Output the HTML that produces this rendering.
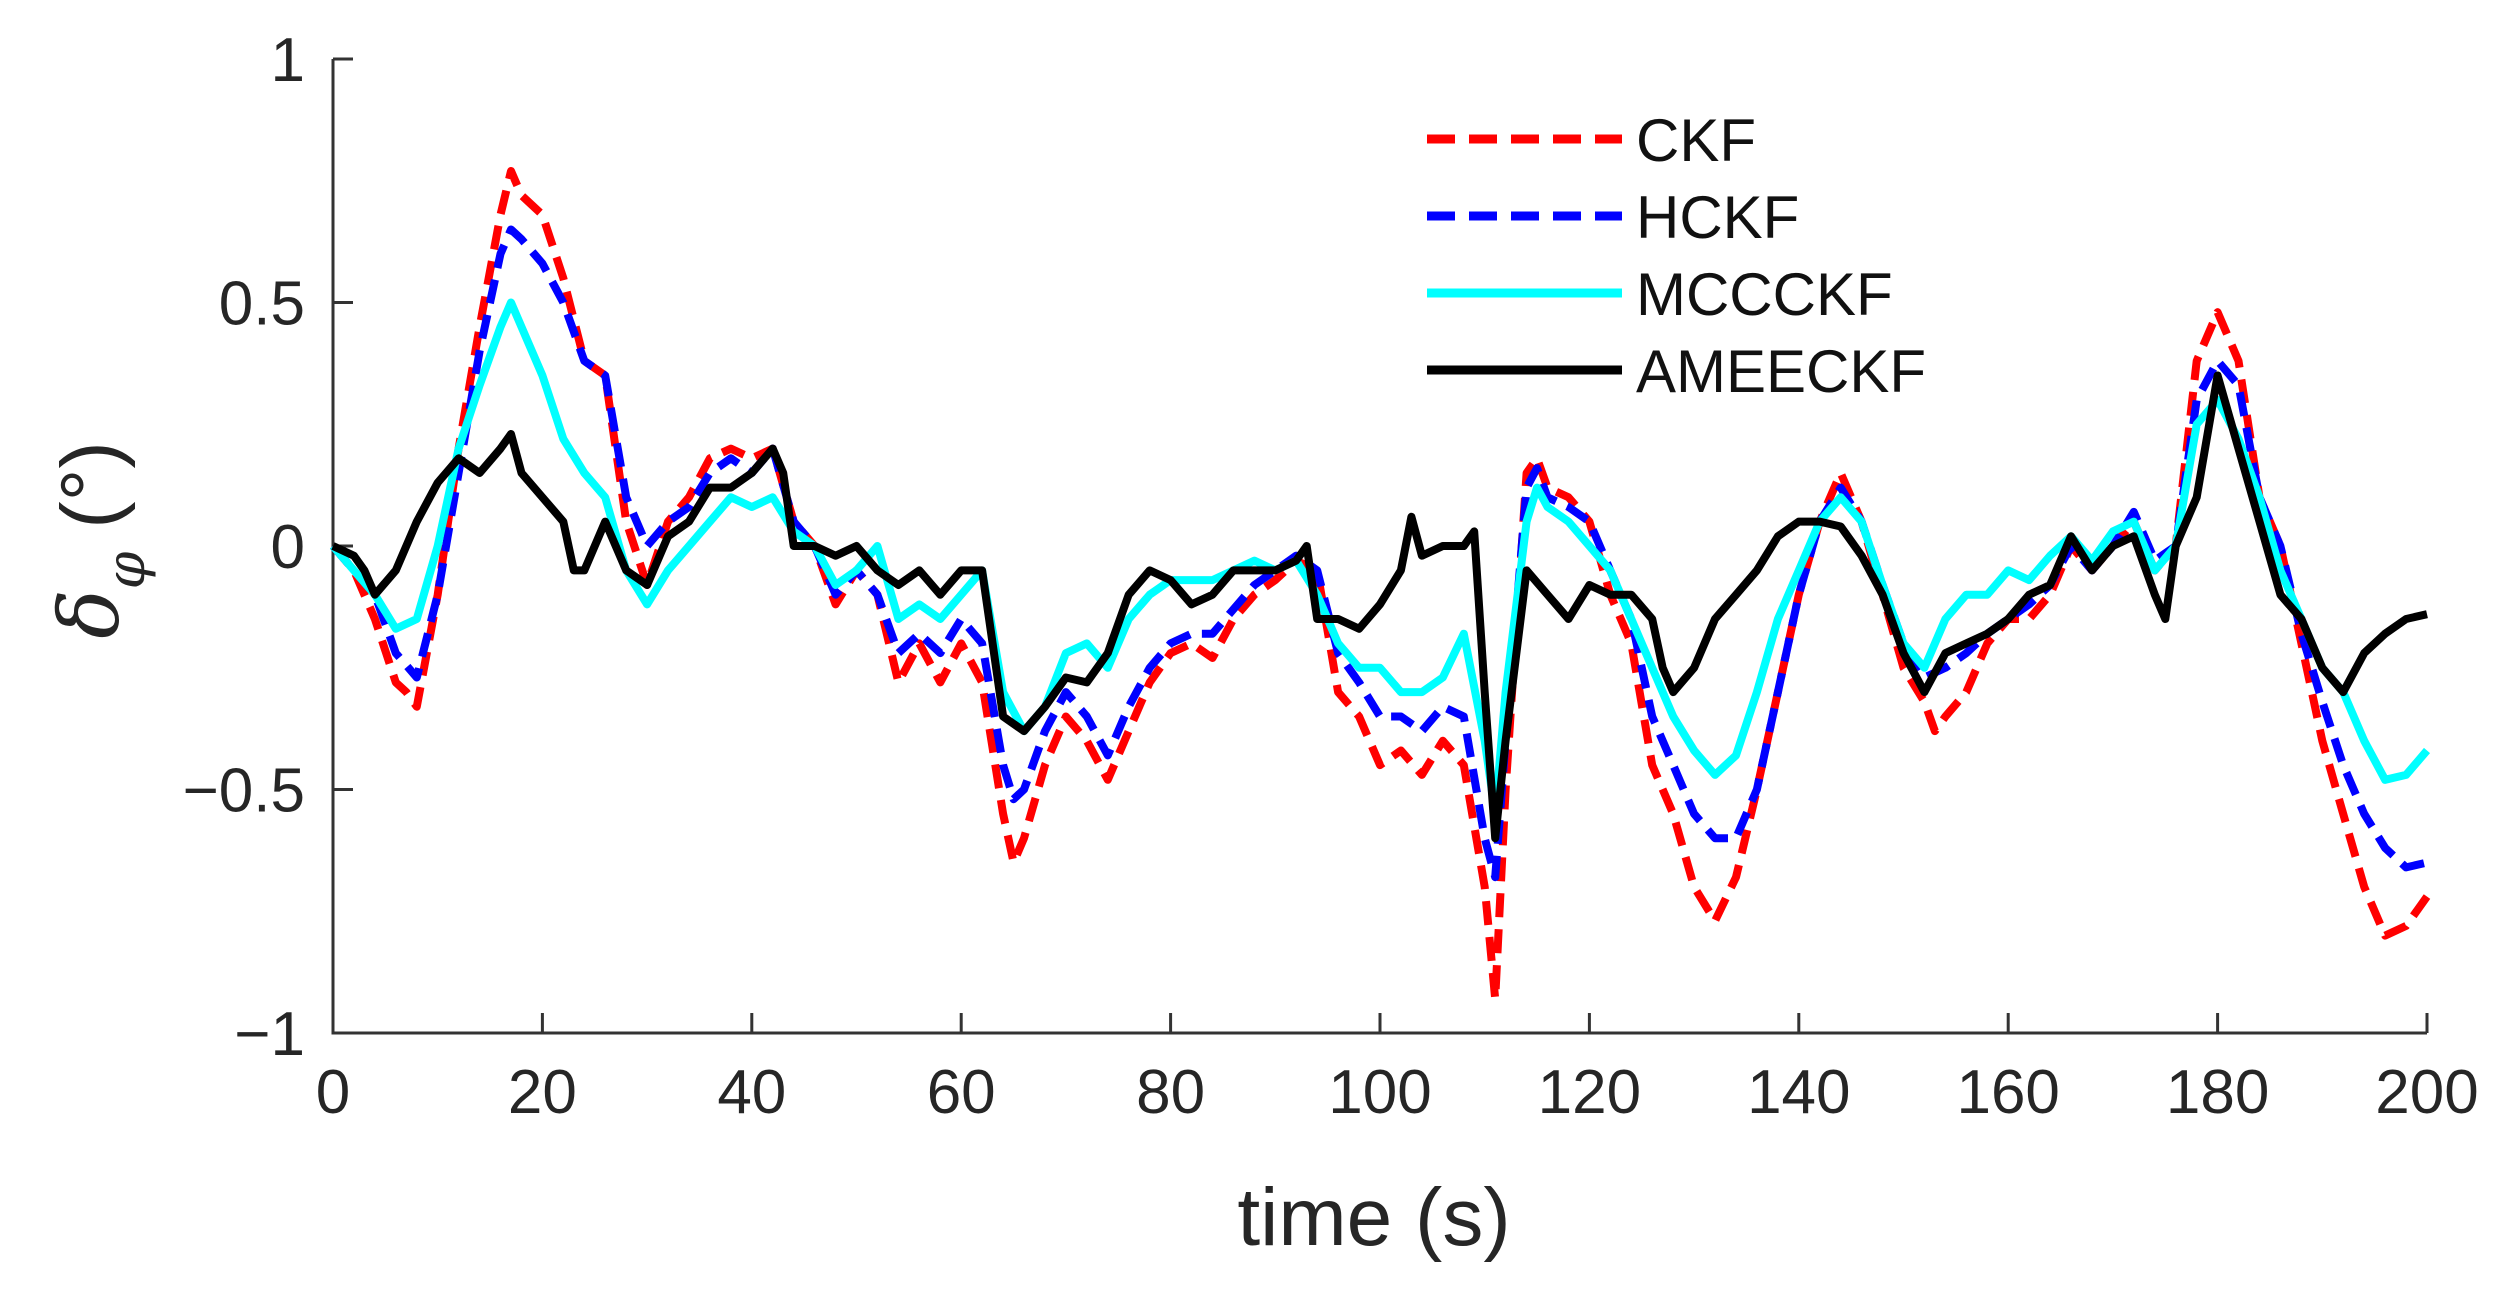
<!DOCTYPE html>
<html><head><meta charset="utf-8"><style>
html,body{margin:0;padding:0;background:#fff;}
svg{display:block;font-family:"Liberation Sans",Arial,sans-serif;}
</style></head><body>
<svg id="chart" width="2505" height="1293" viewBox="0 0 2505 1293" xmlns="http://www.w3.org/2000/svg">
<rect width="2505" height="1293" fill="#fff"/>
<g id="axes"></g>
<g id="series"></g>
<text x="1374" y="1245" font-size="82" text-anchor="middle" fill="#262626">time (s)</text>
<text transform="translate(118,540) rotate(-90)" font-size="82" text-anchor="middle" fill="#262626"><tspan font-family="'DejaVu Serif',serif" font-style="italic">δ</tspan><tspan font-family="'DejaVu Serif',serif" font-style="italic" font-size="54" dy="26">φ</tspan><tspan dy="-26"> (°)</tspan></text>
<g id="legend"></g>
</svg>
<script>
const xTicks=[0,20,40,60,80,100,120,140,160,180,200];
const yTicks=[-1,-0.5,0,0.5,1];
const yTickLabels=["\u22121","\u22120.5","0","0.5","1"];
const seriesNames=["CKF","HCKF","MCCCKF","AMEECKF"];
const ckfT=[0,2,4,6,7,8,10,12,14,16,17,18,20,22,24,26,28,30,32,34,36,38,40,42,44,46,48,50,52,54,56,58,60,62,64,65,66,68,70,72,74,76,78,80,82,84,86,88,90,92,94,96,98,100,102,104,106,108,110,111,112,114,115,116,118,120,122,124,126,128,130,132,134,136,138,140,142,144,146,148,150,152,153,154,156,158,160,162,164,166,168,170,172,174,176,178,180,182,184,186,188,190,192,194,196,198,200];
const ckfV=[0,-0.05,-0.15,-0.28,-0.3,-0.33,-0.1,0.2,0.45,0.68,0.77,0.72,0.68,0.55,0.38,0.35,0.05,-0.08,0.05,0.1,0.18,0.2,0.18,0.2,0.05,0,-0.12,-0.05,-0.1,-0.28,-0.2,-0.28,-0.2,-0.28,-0.55,-0.65,-0.6,-0.45,-0.35,-0.4,-0.48,-0.38,-0.28,-0.22,-0.2,-0.23,-0.15,-0.1,-0.07,-0.03,-0.05,-0.3,-0.35,-0.45,-0.42,-0.47,-0.4,-0.45,-0.7,-0.93,-0.5,0.15,0.18,0.12,0.1,0.05,-0.1,-0.2,-0.45,-0.55,-0.7,-0.77,-0.68,-0.5,-0.3,-0.1,0.05,0.15,0.05,-0.1,-0.25,-0.32,-0.38,-0.35,-0.3,-0.2,-0.15,-0.15,-0.1,0,-0.05,0,0.05,-0.05,0,0.38,0.48,0.38,0.1,0,-0.2,-0.4,-0.55,-0.7,-0.8,-0.78,-0.72];
const hckfT=[0,4,6,8,10,12,14,16,17,18,20,22,24,26,28,30,32,34,36,38,40,42,44,46,48,50,52,54,56,58,60,62,64,65,66,68,70,72,74,76,78,80,82,84,86,88,90,92,94,96,98,100,102,104,106,108,110,111,112,114,115,116,118,120,122,124,126,128,130,132,134,136,138,140,142,144,146,148,150,152,154,156,158,160,162,164,166,168,170,172,174,176,178,180,182,184,186,188,190,192,194,196,198,200];
const hckfV=[0,-0.1,-0.22,-0.27,-0.1,0.15,0.4,0.6,0.65,0.63,0.58,0.5,0.38,0.35,0.1,0,0.05,0.08,0.15,0.18,0.15,0.2,0.05,0,-0.1,-0.05,-0.1,-0.22,-0.18,-0.22,-0.15,-0.2,-0.45,-0.52,-0.5,-0.38,-0.3,-0.35,-0.43,-0.33,-0.25,-0.2,-0.18,-0.18,-0.13,-0.08,-0.05,-0.02,-0.05,-0.22,-0.28,-0.35,-0.35,-0.38,-0.33,-0.35,-0.6,-0.68,-0.4,0.12,0.16,0.1,0.08,0.05,-0.05,-0.15,-0.35,-0.45,-0.55,-0.6,-0.6,-0.5,-0.3,-0.1,0.05,0.12,0.05,-0.08,-0.2,-0.27,-0.25,-0.22,-0.18,-0.15,-0.12,-0.08,0,-0.05,0,0.07,-0.03,0,0.3,0.38,0.33,0.1,0,-0.18,-0.32,-0.45,-0.55,-0.62,-0.66,-0.65];
const mccT=[0,2,4,6,8,10,12,14,16,17,18,20,22,24,26,28,30,32,34,36,38,40,42,44,46,48,50,52,54,56,58,60,62,64,66,68,70,72,74,76,78,80,82,84,86,88,90,92,94,96,98,100,102,104,106,108,110,111,112,114,115,116,118,120,122,124,126,128,130,132,134,136,138,140,142,144,146,148,150,152,154,156,158,160,162,164,166,168,170,172,174,176,178,180,182,184,186,188,190,192,194,196,198,200];
const mccV=[0,-0.05,-0.1,-0.17,-0.15,0,0.2,0.33,0.45,0.5,0.45,0.35,0.22,0.15,0.1,-0.05,-0.12,-0.05,0,0.05,0.1,0.08,0.1,0.03,0,-0.08,-0.05,0,-0.15,-0.12,-0.15,-0.1,-0.05,-0.3,-0.38,-0.33,-0.22,-0.2,-0.25,-0.15,-0.1,-0.07,-0.07,-0.07,-0.05,-0.03,-0.05,-0.03,-0.1,-0.2,-0.25,-0.25,-0.3,-0.3,-0.27,-0.18,-0.4,-0.55,-0.3,0.05,0.12,0.08,0.05,0,-0.05,-0.15,-0.25,-0.35,-0.42,-0.47,-0.43,-0.3,-0.15,-0.05,0.05,0.1,0.05,-0.08,-0.2,-0.25,-0.15,-0.1,-0.1,-0.05,-0.07,-0.02,0.02,-0.03,0.03,0.05,-0.05,0,0.25,0.3,0.22,0.1,-0.05,-0.15,-0.25,-0.3,-0.4,-0.48,-0.47,-0.42];
const ameT=[0,2,3,4,6,8,10,12,14,16,17,18,20,22,23,24,26,28,30,32,34,36,38,40,42,43,44,46,48,50,52,54,56,58,60,62,63,64,66,68,70,72,74,76,78,80,82,84,86,88,90,92,93,94,96,98,100,102,103,104,106,108,109,110,111,112,114,116,118,120,122,124,126,127,128,130,132,134,136,138,140,142,144,146,148,150,152,154,156,158,160,162,164,166,168,170,172,174,175,176,178,180,182,184,186,188,190,192,194,196,198,200];
const ameV=[0,-0.02,-0.05,-0.1,-0.05,0.05,0.13,0.18,0.15,0.2,0.23,0.15,0.1,0.05,-0.05,-0.05,0.05,-0.05,-0.08,0.02,0.05,0.12,0.12,0.15,0.2,0.15,0,0,-0.02,0,-0.05,-0.08,-0.05,-0.1,-0.05,-0.05,-0.2,-0.35,-0.38,-0.33,-0.27,-0.28,-0.22,-0.1,-0.05,-0.07,-0.12,-0.1,-0.05,-0.05,-0.05,-0.03,0,-0.15,-0.15,-0.17,-0.12,-0.05,0.06,-0.02,0,0,0.03,-0.3,-0.6,-0.4,-0.05,-0.1,-0.15,-0.08,-0.1,-0.1,-0.15,-0.25,-0.3,-0.25,-0.15,-0.1,-0.05,0.02,0.05,0.05,0.04,-0.02,-0.1,-0.22,-0.3,-0.22,-0.2,-0.18,-0.15,-0.1,-0.08,0.02,-0.05,0,0.02,-0.1,-0.15,0,0.1,0.35,0.2,0.05,-0.1,-0.15,-0.25,-0.3,-0.22,-0.18,-0.15,-0.14];

const X0=333,X1=2427,YT=59,YB=1033;
const xs=t=>X0+(t-0)/(200-0)*(X1-X0);
const ys=v=>YB-(v+1)/2*(YB-YT);
const NS="http://www.w3.org/2000/svg";
function mk(tag,attrs,parent){const e=document.createElementNS(NS,tag);for(const k in attrs)e.setAttribute(k,attrs[k]);parent.appendChild(e);return e;}
const axes=document.getElementById('axes');
const ax=mk('path',{d:`M${X0},${YT}V${YB}H${X1}`,fill:'none',stroke:'#333',"stroke-width":3},axes);


xTicks.forEach(t=>{
  const tk=mk('line',{x1:xs(t),x2:xs(t),y1:YB,y2:YB-20,stroke:'#333',"stroke-width":3},axes);
  
  
  const lb=mk('text',{x:xs(t),y:1113,"font-size":62,"text-anchor":"middle",fill:'#262626'},axes);
  lb.textContent=t;
  
  
});
yTicks.forEach((v,i)=>{
  const tk=mk('line',{x1:X0,x2:X0+20,y1:ys(v),y2:ys(v),stroke:'#333',"stroke-width":3},axes);
  
  
  const lb=mk('text',{x:305,y:ys(v)+22,"font-size":62,"text-anchor":"end",fill:'#262626'},axes);
  lb.textContent=yTickLabels[i];
  
  
});
const styles=[{c:'#ff0000',d:'24 12'},{c:'#0000ff',d:'24 12'},{c:'#00ffff',d:''},{c:'#000000',d:''}];
const data=[[ckfT,ckfV],[hckfT,hckfV],[mccT,mccV],[ameT,ameV]];
const sg=document.getElementById('series');
data.forEach((s,i)=>{
  const d=s[0].map((t,j)=>(j?'L':'M')+xs(t).toFixed(1)+','+ys(s[1][j]).toFixed(1)).join('');
  const p=mk('path',{d:d,fill:'none',stroke:styles[i].c,"stroke-width":8,"stroke-linejoin":"round"},sg);
  if(styles[i].d)p.setAttribute('stroke-dasharray',styles[i].d);
  
  
});
const lg=document.getElementById('legend');
seriesNames.forEach((n,i)=>{
  const y=139+i*77;
  const l=mk('line',{x1:1427,x2:1622,y1:y,y2:y,stroke:styles[i].c,"stroke-width":9},lg);
  if(styles[i].d)l.setAttribute('stroke-dasharray','28 14');
  
  
  const t=mk('text',{x:1636,y:y+22,"font-size":60,fill:'#111'},lg);
  t.textContent=n;
  
  
});
</script>
</body></html>
